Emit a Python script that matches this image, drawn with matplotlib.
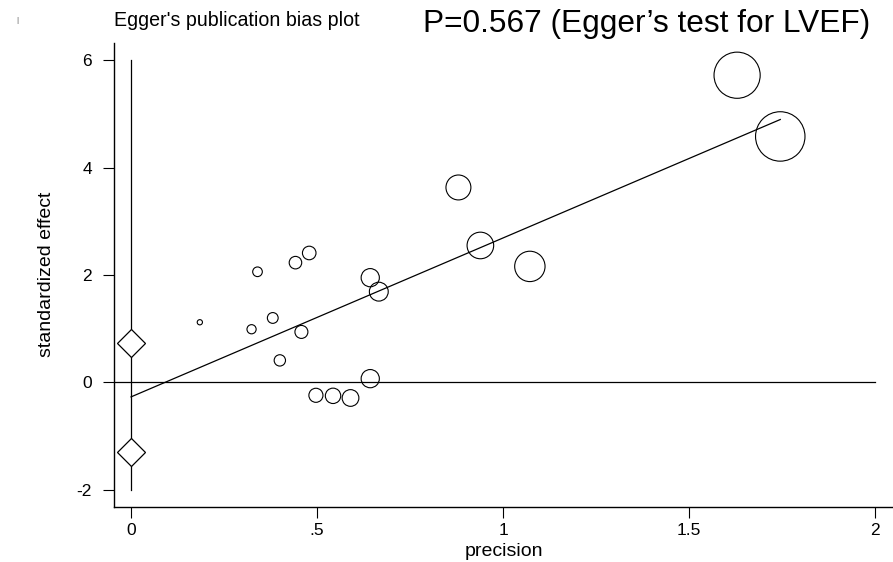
import numpy as np
import matplotlib
matplotlib.use("Agg")
import matplotlib.pyplot as plt

plt.rcParams['font.family'] = ['Liberation Sans', 'DejaVu Sans']
plt.rcParams['axes.unicode_minus'] = False

# precision (1/se) and standardized effect (effect/se) for each study
precision = [0.185, 0.324, 0.340, 0.381, 0.400, 0.442, 0.458, 0.479, 0.497,
             0.543, 0.590, 0.643, 0.643, 0.666, 0.880, 0.939, 1.072, 1.629, 1.745]
std_effect = [1.12, 0.99, 2.06, 1.20, 0.41, 2.23, 0.94, 2.41, -0.24,
              -0.25, -0.29, 0.07, 1.95, 1.69, 3.63, 2.55, 2.16, 5.72, 4.58]

# Egger regression: intercept and slope
intercept = -0.27
slope = 2.96
# intercept confidence limits shown as diamonds on the y axis
ci_marks = [0.73, -1.30]
ci_span = [-2, 6]

x_ticks = [0, 0.5, 1, 1.5, 2]
x_ticklabels = ["0", ".5", "1", "1.5", "2"]
y_ticks = [-2, 0, 2, 4, 6]

W, H = 893, 562
fig = plt.figure(figsize=(W / 100, H / 100), dpi=100)
ax = fig.add_axes([114 / W, 1 - 507 / H, (W - 114) / W, 464 / H])
xlo, xhi = -0.0457, 2.048
ax.set_xlim(xlo, xhi)
ax.set_ylim(-2.32, 6.32)

prec = np.array(precision)
# circle area proportional to weight (precision squared)
sizes = (20.4 * prec) ** 2
ax.scatter(prec, std_effect, s=sizes, facecolors='none', edgecolors='black',
           linewidths=0.8, zorder=3)

xs = np.array([0, prec.max()])
ax.plot(xs, intercept + slope * xs, color='black', lw=0.9)

ax.axhline(0, xmin=0, xmax=(2 - xlo) / (xhi - xlo), color='black', lw=0.9)
ax.plot([0, 0], ci_span, color='black', lw=0.9)
ax.plot([0] * len(ci_marks), ci_marks, ls='none', marker='D', ms=14.5,
        mfc='white', mec='black', mew=0.9, zorder=4)

for side in ['top', 'right']:
    ax.spines[side].set_visible(False)
for side in ['left', 'bottom']:
    ax.spines[side].set_linewidth(1.0)

ax.set_xticks(x_ticks)
ax.set_xticklabels(x_ticklabels)
ax.set_yticks(y_ticks)
ax.tick_params(length=8, width=0.8, labelsize=12.5)
ax.tick_params(axis='x', pad=3.5)
ax.tick_params(axis='y', pad=8)
ax.set_xlabel("precision", fontsize=14)
ax.set_ylabel("standardized effect", fontsize=14)
ax.xaxis.set_label_coords(0.5, -0.077)
ax.yaxis.set_label_coords(-0.0757, 0.501)

fig.text(114 / W, 1 - 26 / H, "Egger's publication bias plot",
         fontsize=14.1, ha='left', va='baseline')
fig.text(423 / W, 1 - 31.7 / H, "P=0.567 (Egger\u2019s test for LVEF)",
         fontsize=22.75, ha='left', va='baseline')
fig.text(17 / W, 1 - 20 / H, "|", fontsize=6, color='#555555',
         ha='center', va='center')

fig.savefig("out.png", dpi=100, facecolor='white')
